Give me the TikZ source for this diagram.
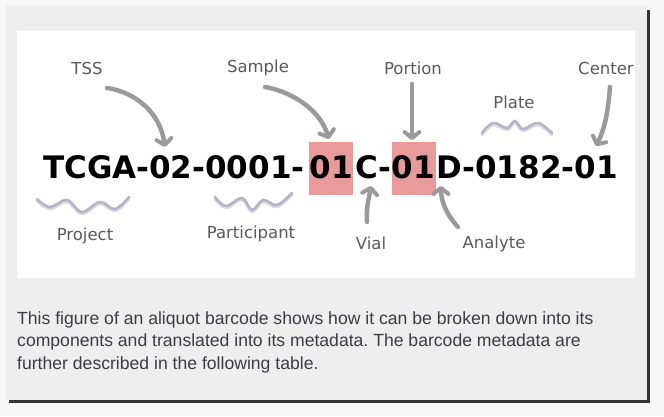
\documentclass[tikz,border=0pt]{standalone}
\usepackage{fontspec}
\setmainfont{DejaVu Sans}
\newfontfamily\capfont{Liberation Sans}
\usetikzlibrary{arrows.meta}
\frenchspacing
\definecolor{outerbg}{HTML}{F7F7F7}
\definecolor{panelbg}{HTML}{EEEEEE}
\definecolor{shadowc}{HTML}{333333}
\definecolor{pinkhl}{HTML}{E99A9A}
\definecolor{arrowc}{HTML}{9A9A9A}
\definecolor{lblc}{HTML}{5A5A5A}
\definecolor{bracec}{HTML}{B4B4C4}
\definecolor{braceshadow}{HTML}{DADAE2}
\definecolor{captc}{HTML}{3C3C44}
\tikzset{
  bc/.style={font=\fontsize{31}{31}\selectfont\bfseries, text=black, inner sep=0pt},
  hl/.style={fill=pinkhl, draw=none, inner sep=0pt, minimum width=44pt, minimum height=53pt},
  lbl/.style={font=\fontsize{16.5}{16.5}\selectfont, text=lblc, inner sep=0pt},
  arr/.style={draw=arrowc, line width=4.5pt, line cap=round,
    -{Straight Barb[length=6pt,width=15pt,line width=4pt,round]}},
  brace/.style={draw=bracec, line width=2.6pt, line cap=round},
  braceshd/.style={draw=braceshadow, line width=3pt, line cap=round},
  capt/.style={font=\capfont\fontsize{17.6}{17.6}\selectfont\frenchspacing, text=captc, inner sep=0pt, anchor=base west}
}
\begin{document}
\begin{tikzpicture}[x=1pt,y=-1pt]
\useasboundingbox (0,0) rectangle (664,416);
\fill[outerbg] (0,0) rectangle (664,416);
% panel with shadow
\fill[shadowc] (9,10) rectangle (650,403);
\fill[panelbg] (6,5) rectangle (647,400);
\fill[white] (17,31) rectangle (635,278);

% highlight boxes
\node[hl] (box1) at (331,168.5) {};
\node[hl] (box2) at (413.5,168.5) {};

% barcode
\node[bc, anchor=base west] (s1) at (43,178) {TCGA-02-0001-};
\node[bc, anchor=base] (s2) at (331,178) {01};
\node[bc, anchor=base west] (s3) at (355,178) {C-};
\node[bc, anchor=base] (s4) at (413.5,178) {01};
\node[bc, anchor=base west] (s5) at (436,178) {D-0182-01};

% labels
\node[lbl] (tss) at (87,68) {TSS};
\node[lbl] (sample) at (258,68) {Sample};
\node[lbl] (portion) at (413,68) {Portion};
\node[lbl] (center) at (606,68) {Center};
\node[lbl] (plate) at (514,102) {Plate};
\node[lbl] (project) at (85,236) {Project};
\node[lbl] (participant) at (251,234) {Participant};
\node[lbl] (vial) at (371,243) {Vial};
\node[lbl] (analyte) at (494,244) {Analyte};

% arrow ends
\coordinate (tssT) at (107,88);   \coordinate (tssH) at (165,147);
\coordinate (samT) at (265,87);   \coordinate (samH) at (329,139);
\coordinate (porT) at (412,84);   \coordinate (porH) at (412,140);
\coordinate (cenT) at (610,87);   \coordinate (cenH) at (596,146);
\coordinate (viaT) at (367,222);  \coordinate (viaH) at (371,186);
\coordinate (anaT) at (458,227);  \coordinate (anaH) at (441,186);

\draw[arr] (tssT) .. controls (135,92) and (160,112) .. (tssH);
\draw[arr] (samT) .. controls (293,92) and (320,110) .. (samH);
\draw[arr] (porT) -- (porH);
\draw[arr] (cenT) .. controls (608,112) and (605,128) .. (cenH);
\draw[arr] (viaT) .. controls (366,208) and (369,198) .. (viaH);
\draw[arr] (anaT) .. controls (447,215) and (441,202) .. (anaH);

% braces (shadow then line)
\draw[braceshd, yshift=-1.8pt] plot[smooth, tension=0.6] coordinates {(37,199) (50,207) (67,200) (82,212) (100,202) (115,209) (129,197)};
\draw[brace] plot[smooth, tension=0.6] coordinates {(37,199) (50,207) (67,200) (82,212) (100,202) (115,209) (129,197)};
\draw[braceshd, yshift=-1.8pt] plot[smooth, tension=0.6] coordinates {(215,197) (226,206) (242,198) (252,210) (263,200) (277,205) (292,193)};
\draw[brace] plot[smooth, tension=0.6] coordinates {(215,197) (226,206) (242,198) (252,210) (263,200) (277,205) (292,193)};
\draw[braceshd, yshift=-1.8pt] plot[smooth, tension=0.6] coordinates {(482,133) (493,123) (507,128) (515,121) (523,129) (538,123) (552,133)};
\draw[brace] plot[smooth, tension=0.6] coordinates {(482,133) (493,123) (507,128) (515,121) (523,129) (538,123) (552,133)};

% caption
\node[capt] (c1) at (17,324) {This figure of an aliquot barcode shows how it can be broken down into its};
\node[capt] (c2) at (17,346.5) {components and translated into its metadata. The barcode metadata are};
\node[capt] (c3) at (17,369) {further described in the following table.};
\end{tikzpicture}
\end{document}
